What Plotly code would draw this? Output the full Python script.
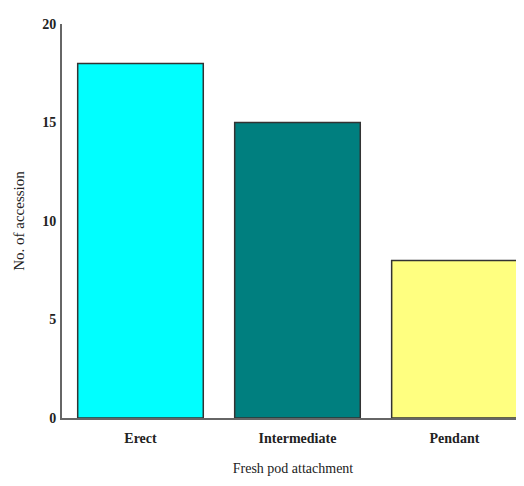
import plotly.graph_objects as go

categories = ["Erect", "Intermediate", "Pendant"]
values = [18, 15, 8]
colors = ["#00FFFF", "#007F7F", "#FFFF80"]
y_ticks = [0, 5, 10, 15, 20]

fig = go.Figure()
fig.add_trace(go.Bar(
    x=categories, y=values,
    marker=dict(color=colors, line=dict(color="#333333", width=1.5)),
    width=0.8,
))

font_family = "Liberation Serif, Times New Roman, serif"
fig.update_layout(
    width=516, height=478,
    margin=dict(l=54, r=0, t=16, b=68),
    paper_bgcolor="white", plot_bgcolor="white",
    showlegend=False,
    font=dict(family=font_family, color="#222222"),
    xaxis=dict(
        range=[-0.5, 2.443],
        showline=True, linecolor="#666666", linewidth=2,
        showgrid=False, ticks="",
        ticklabelstandoff=6,
        tickfont=dict(size=14, family=font_family, weight="bold"),
        title=dict(text="Fresh pod attachment", font=dict(size=14), standoff=18),
    ),
    yaxis=dict(
        range=[0, 20],
        tickvals=y_ticks,
        showline=True, linecolor="#666666", linewidth=2,
        showgrid=False, zeroline=False, ticks="",
        ticklabelstandoff=1,
        tickfont=dict(size=14, family=font_family, weight="bold"),
        title=dict(text="No. of accession", font=dict(size=15), standoff=14),
    ),
)

fig.write_html("out.html")
